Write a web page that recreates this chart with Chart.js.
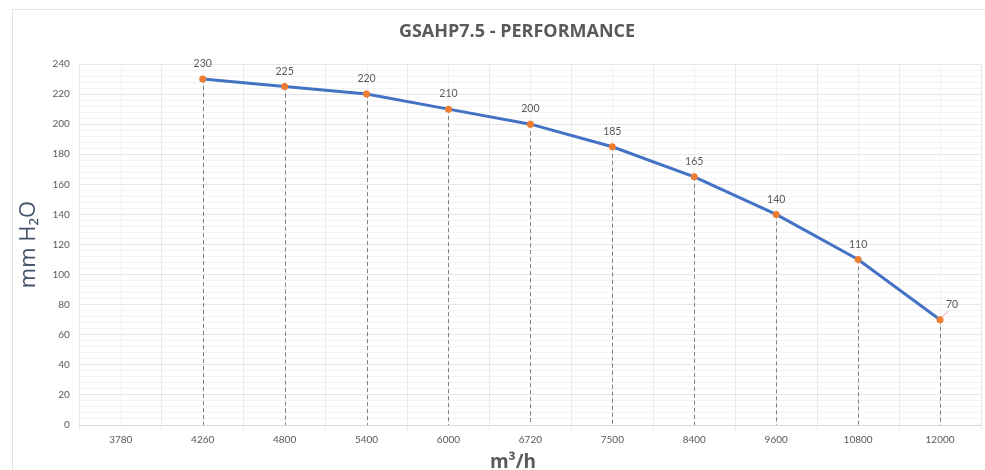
<!DOCTYPE html>
<html>
<head>
<meta charset="utf-8">
<script src="https://cdn.jsdelivr.net/npm/chart.js@4"></script>
<style>
  html, body { margin: 0; padding: 0; background: #fff; overflow: hidden; }
  #frame {
    position: absolute; left: 12px; top: 9px; width: 973px; height: 461px;
    border-left: 1px solid #e3e3e3; border-top: 1px solid #e3e3e3; box-sizing: border-box;
    overflow: hidden;
  }
  #chart-title {
    position: absolute; left: 517px; top: 30px; transform: translate(-50%, -50%);
    font: bold 18px "Open Sans", sans-serif; color: #595959; white-space: nowrap;
  }
  #x-title {
    position: absolute; left: 513px; top: 461px; transform: translate(-50%, -50%);
    font: bold 19px "Open Sans", sans-serif; color: #595959; white-space: nowrap;
  }
  canvas { display: block; }
</style>
</head>
<body>
<div id="frame"><canvas id="perf-chart" width="972" height="463"></canvas></div>
<div id="chart-title">GSAHP7.5 - PERFORMANCE</div>
<div id="x-title">m³/h</div>
<script>
const flowLabels = ['3780', '4260', '4800', '5400', '6000', '6720', '7500', '8400', '9600', '10800', '12000'];
const pressureValues = [null, 230, 225, 220, 210, 200, 185, 165, 140, 110, 70];
const yTickValues = [0, 20, 40, 60, 80, 100, 120, 140, 160, 180, 200, 220, 240];

const textGray = '#595959';

// dashed drop lines, faint center gridlines and point labels
const dropLines = {
  id: 'dropLines',
  beforeDatasetsDraw(chart) {
    const { ctx, scales: { x, y }, chartArea } = chart;
    ctx.save();
    ctx.strokeStyle = '#f0f0f0';
    ctx.lineWidth = 1;
    flowLabels.forEach((_, i) => {
      const px = Math.round(x.getPixelForValue(i)) + 0.5;
      ctx.beginPath();
      ctx.moveTo(px, chartArea.top);
      ctx.lineTo(px, chartArea.bottom);
      ctx.stroke();
    });
    ctx.strokeStyle = '#7f7f7f';
    ctx.setLineDash([4, 3]);
    pressureValues.forEach((v, i) => {
      if (v == null) return;
      const px = Math.round(x.getPixelForValue(i)) + 0.5;
      ctx.beginPath();
      ctx.moveTo(px, y.getPixelForValue(v));
      ctx.lineTo(px, y.getPixelForValue(0));
      ctx.stroke();
    });
    ctx.restore();
  },
  afterDatasetsDraw(chart) {
    const { ctx, scales: { x, y } } = chart;
    ctx.save();
    ctx.font = '10.5px Lato, "Open Sans", sans-serif';
    ctx.fillStyle = textGray;
    ctx.textAlign = 'center';
    ctx.textBaseline = 'bottom';
    const last = pressureValues.length - 1;
    pressureValues.forEach((v, i) => {
      if (v == null) return;
      const px = x.getPixelForValue(i);
      const py = y.getPixelForValue(v);
      if (i === last) {
        ctx.strokeStyle = '#f2a6a0';
        ctx.lineWidth = 1;
        ctx.beginPath();
        ctx.moveTo(px + 2, py - 3);
        ctx.lineTo(px + 9, py - 9);
        ctx.stroke();
        ctx.fillText(String(v), px + 12, py - 10);
      } else {
        ctx.fillText(String(v), px, py - 10);
      }
    });
    ctx.restore();
  }
};

new Chart(document.getElementById('perf-chart'), {
  type: 'line',
  data: {
    labels: flowLabels,
    datasets: [{
      data: pressureValues,
      borderColor: '#4472C4',
      borderWidth: 3,
      pointBackgroundColor: '#ED7D31',
      pointBorderColor: '#ED7D31',
      pointRadius: 3.5,
      pointBorderWidth: 0,
      tension: 0,
      spanGaps: false
    }]
  },
  options: {
    responsive: false,
    animation: false,
    layout: { padding: { left: 3, right: 2, top: 54, bottom: 23 } },
    plugins: {
      legend: { display: false },
      tooltip: { enabled: false },
      title: { display: false }
    },
    scales: {
      x: {
        offset: true,
        grid: { offset: true, color: '#e8e8e8', drawTicks: true, tickLength: 5 },
        border: { color: '#d9d9d9' },
        ticks: {
          color: textGray,
          font: { family: 'Lato, sans-serif', size: 10 },
          maxRotation: 0,
          autoSkip: false,
          padding: 4
        },
        title: { display: false }
      },
      y: {
        min: 0,
        max: 240,
        afterBuildTicks(scale) {
          const ticks = [];
          for (let k = 0; k < yTickValues.length; k++) {
            ticks.push({ value: yTickValues[k] });
            if (k < yTickValues.length - 1) {
              for (let m = 1; m < 5; m++) ticks.push({ value: yTickValues[k] + m * 4 });
            }
          }
          scale.ticks = ticks;
        },
        grid: {
          drawTicks: false,
          color: c => (c.tick && c.tick.value % 20 === 0) ? '#e6e6e6' : '#f3f3f3'
        },
        border: { display: false },
        ticks: {
          autoSkip: false,
          color: textGray,
          font: { family: 'Lato, sans-serif', size: 10 },
          padding: 10,
          callback: v => (v % 20 === 0 ? v : '')
        },
        title: {
          display: true,
          text: 'mm H₂O',
          color: '#44546A',
          font: { family: '"Open Sans", sans-serif', size: 22 },
          padding: { top: 0, bottom: 0 }
        }
      }
    }
  },
  plugins: [dropLines]
});
</script>
</body>
</html>
